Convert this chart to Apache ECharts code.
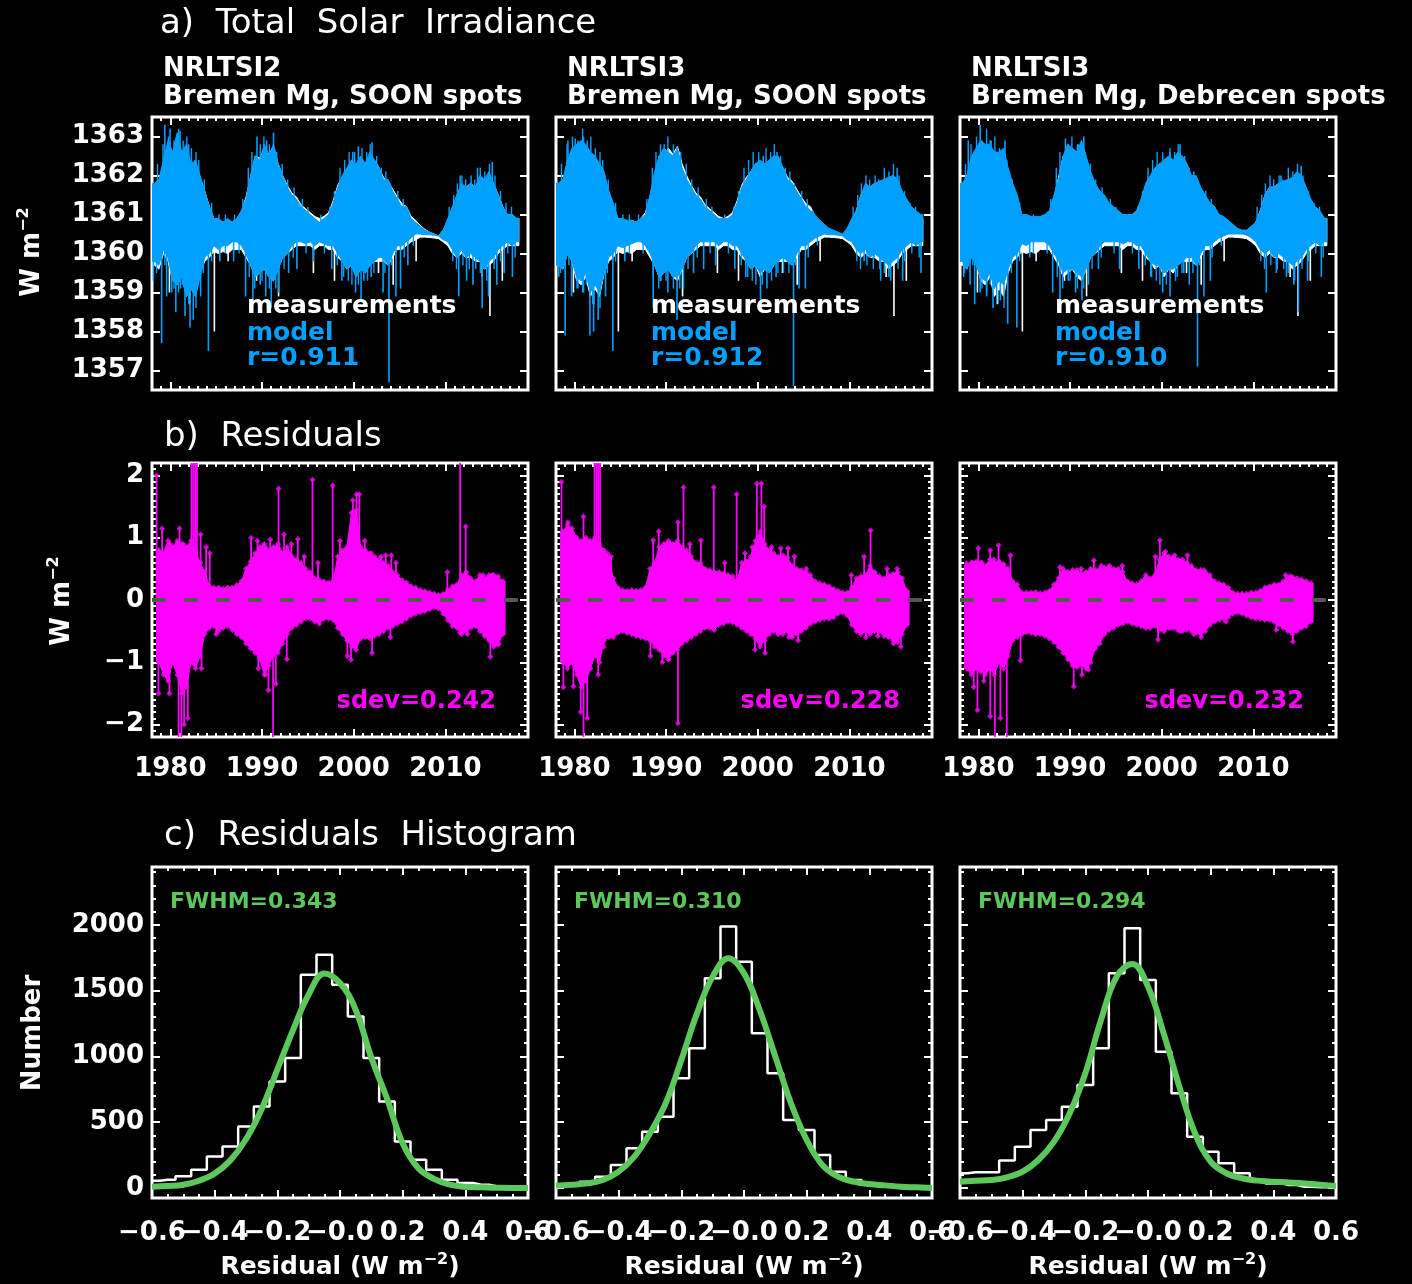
<!DOCTYPE html>
<html><head><meta charset="utf-8">
<script src="https://cdn.jsdelivr.net/npm/echarts@6/dist/echarts.min.js"></script>
<style>html,body{margin:0;padding:0;background:#000}#c{width:1412px;height:1284px}</style>
</head><body><div id="c"></div>
<script>
// ---------------- DATA ----------------
// Row a: TSI band samples (half-year), W m-2
const yearsA = [1978.25,1978.75,1979.25,1979.75,1980.25,1980.75,1981.25,1981.75,1982.25,1982.75,
1983.25,1983.75,1984.25,1984.75,1985.25,1985.75,1986.25,1986.75,1987.25,1987.75,
1988.25,1988.75,1989.25,1989.75,1990.25,1990.75,1991.25,1991.75,1992.25,1992.75,
1993.25,1993.75,1994.25,1994.75,1995.25,1995.75,1996.25,1996.75,1997.25,1997.75,
1998.25,1998.75,1999.25,1999.75,2000.25,2000.75,2001.25,2001.75,2002.25,2002.75,
2003.25,2003.75,2004.25,2004.75,2005.25,2005.75,2006.25,2006.75,2007.25,2007.75,
2008.25,2008.75,2009.25,2009.75,2010.25,2010.75,2011.25,2011.75,2012.25,2012.75,
2013.25,2013.75,2014.25,2014.75,2015.25,2015.75,2016.25,2016.75,2017.25,2017.75];

const measHi = [1361.7,1361.8,1362.3,1362.6,1362.5,1362.7,1362.5,1362.5,1362.25,1362.25,
1361.95,1361.6,1361.2,1360.9,1360.85,1360.8,1360.85,1360.8,1360.9,1361.05,
1361.45,1361.95,1362.5,1362.45,1362.7,1362.55,1362.75,1362.3,1362.0,1361.75,
1361.55,1361.45,1361.25,1361.15,1361.05,1360.95,1360.9,1360.95,1361.05,1361.35,
1361.75,1361.95,1362.1,1362.3,1362.25,1362.3,1362.3,1362.5,1362.4,1362.2,
1361.95,1361.85,1361.65,1361.45,1361.28,1361.2,1360.95,1360.85,1360.72,1360.62,
1360.55,1360.5,1360.45,1360.6,1360.8,1361.1,1361.5,1361.7,1361.7,1361.8,
1361.7,1361.9,1361.9,1362.0,1361.8,1361.5,1361.2,1361.0,1361.0,1360.9];
const measLo = [1359.7,1359.6,1360.0,1359.8,1359.3,1359.2,1359.4,1358.9,1359.1,1358.9,
1359.5,1359.8,1359.9,1360.05,1360.0,1360.05,1360.0,1360.1,1360.1,1360.1,
1359.9,1359.7,1359.4,1359.5,1359.6,1359.4,1359.3,1359.6,1359.9,1360.0,
1360.1,1360.2,1360.2,1360.2,1360.2,1360.1,1360.2,1360.2,1360.1,1360.1,
1359.9,1359.8,1359.6,1359.7,1359.4,1359.6,1359.5,1359.7,1359.8,1359.8,
1359.8,1359.7,1359.9,1360.1,1360.1,1360.2,1360.3,1360.35,1360.42,1360.42,
1360.41,1360.4,1360.38,1360.3,1360.2,1360.0,1359.9,1360.0,1359.9,1359.9,
1359.8,1359.8,1359.6,1359.7,1359.8,1360.0,1360.1,1360.2,1360.2,1360.2];
const measSpikes = [[1979.9,1359.0],[1982.1,1358.7],[1984.8,1358.0],[1986.3,1359.8],[1989.4,1359.3],
[1991.8,1358.9],[1995.6,1359.5],[1997.9,1359.3],[2002.7,1359.5],[2004.3,1359.2],[2006.8,1359.8],
[2014.0,1359.4],[2014.85,1358.4],[2016.2,1359.3]];

// short day-to-day fluctuations seen along both edges of the model band (common to all three panels)
const tsiFringe = [[1978.6,1362.3],[1979.2,1362.8],[1979.8,1363.0],[1980.4,1362.9],[1980.9,1363.2],[1981.4,1362.9],
[1981.8,1363.0],[1982.3,1362.7],[1982.8,1362.6],[1983.1,1362.4],[1983.7,1361.9],[1984.5,1361.3],[1985.3,1361.0],
[1986.0,1361.0],[1987.0,1361.0],[1987.9,1361.4],[1988.5,1362.2],[1988.9,1362.6],[1989.8,1362.8],[1990.2,1363.0],
[1990.8,1362.8],[1991.6,1362.6],[1992.2,1362.3],[1992.8,1361.9],[1993.5,1361.7],[1994.4,1361.4],[1995.0,1361.2],
[1996.4,1361.0],[1997.4,1361.2],[1997.9,1361.6],[1998.5,1362.2],[1999.0,1362.4],[1999.5,1362.6],[2000.1,1362.6],
[2000.9,1362.7],[2001.4,1362.6],[2001.8,1362.8],[2002.5,1362.5],[2003.0,1362.2],[2003.5,1362.1],[2004.0,1361.8],
[2004.8,1361.6],[2005.4,1361.4],[2006.0,1361.1],[2010.4,1361.2],[2010.9,1361.5],[2011.3,1361.8],[2011.8,1362.0],
[2012.2,1361.9],[2012.8,1362.0],[2013.2,1361.9],[2013.8,1362.2],[2014.3,1362.1],[2014.8,1362.3],[2015.4,1362.0],
[2016.0,1361.6],[2016.6,1361.3],[2017.2,1361.2],
[1978.5,1359.5],[1979.4,1359.7],[1980.4,1359.1],[1980.9,1359.0],[1981.3,1359.2],[1982.0,1358.7],[1982.8,1358.6],
[1983.6,1359.5],[1984.5,1359.8],[1986.0,1360.0],[1987.5,1360.0],[1988.6,1359.4],[1989.2,1359.1],[1990.0,1359.3],
[1990.8,1359.1],[1991.5,1359.1],[1992.4,1359.6],[1993.4,1359.9],[1994.8,1360.0],[1996.8,1360.0],[1998.2,1359.7],
[1998.9,1359.4],[1999.4,1359.3],[1999.8,1359.2],[2000.5,1359.2],[2001.5,1359.3],[2002.2,1359.5],[2003.4,1359.5],
[2004.1,1359.7],[2005.5,1359.9],[2006.5,1360.2],[2010.8,1359.8],[2011.2,1359.6],[2011.9,1359.7],[2012.6,1359.6],
[2013.3,1359.6],[2013.8,1359.5],[2014.5,1359.3],[2015.3,1359.6],[2016.0,1359.8],[2016.8,1360.0],[2017.6,1359.9]];

const tsiHi1 = [1361.8,1361.9,1362.4,1362.9,1362.6,1363.1,1362.6,1362.8,1362.3,1362.4,
1362.0,1361.6,1361.2,1360.9,1360.9,1360.8,1360.9,1360.8,1360.9,1361.1,
1361.4,1362.0,1362.5,1362.4,1362.8,1362.5,1362.8,1362.3,1362.0,1361.7,
1361.5,1361.4,1361.2,1361.1,1361.0,1360.9,1360.8,1360.9,1361.0,1361.3,
1361.7,1362.0,1362.2,1362.4,1362.3,1362.5,1362.3,1362.6,1362.4,1362.2,
1361.9,1361.9,1361.6,1361.4,1361.2,1361.2,1360.9,1360.8,1360.7,1360.6,
1360.55,1360.5,1360.45,1360.6,1360.9,1361.2,1361.5,1361.8,1361.7,1361.8,
1361.7,1362.0,1361.9,1362.1,1361.8,1361.5,1361.2,1361.0,1361.0,1360.9];
const tsiLo1 = [1359.8,1359.7,1360.1,1359.9,1359.3,1359.2,1359.4,1358.9,1359.1,1358.9,
1359.4,1359.9,1360.0,1360.2,1360.1,1360.2,1360.2,1360.3,1360.3,1360.2,
1360.0,1359.7,1359.4,1359.5,1359.6,1359.4,1359.3,1359.6,1359.9,1360.0,
1360.2,1360.3,1360.3,1360.25,1360.3,1360.2,1360.3,1360.25,1360.2,1360.2,
1360.0,1359.8,1359.6,1359.7,1359.4,1359.6,1359.5,1359.7,1359.8,1359.9,
1359.9,1359.7,1360.0,1360.2,1360.2,1360.3,1360.4,1360.5,1360.5,1360.48,
1360.48,1360.47,1360.45,1360.35,1360.3,1360.1,1359.9,1360.1,1359.9,1360.0,
1359.9,1359.8,1359.6,1359.8,1359.9,1360.1,1360.2,1360.3,1360.2,1360.3];
const tsiSpikes1 = [[1978.15,1359.3],[1979.05,1357.7],[1979.6,1358.9],[1980.15,1359.0],[1980.6,1358.5],
[1981.1,1359.1],[1981.6,1358.4],[1982.15,1358.1],[1982.5,1358.3],[1983.3,1358.9],[1984.15,1357.5],
[1985.4,1359.8],[1986.9,1359.8],[1988.2,1358.9],[1989.0,1358.7],[1989.8,1359.2],[1990.4,1358.9],
[1991.0,1358.6],[1991.8,1359.0],[1992.9,1359.5],[1993.8,1359.6],[1995.6,1359.8],[1997.6,1359.6],
[1998.7,1359.3],[2000.2,1359.0],[2000.8,1358.8],[2001.1,1359.3],[2001.9,1359.4],[2003.2,1359.0],
[2003.84,1356.7],[2004.6,1358.9],[2005.1,1359.1],[2005.9,1359.7],[2011.45,1358.9],[2012.3,1359.3],
[2013.0,1359.2],[2014.0,1358.6],[2014.7,1358.9],[2015.6,1359.2],[2016.4,1359.5],[2017.3,1359.4],
[1979.4,1363.3],[1979.97,1363.2],[1981.06,1363.15],[1982.0,1362.8],[1989.45,1363.0],[1990.5,1362.9],
[1991.25,1363.1],[1999.9,1362.6],[2000.5,1362.75],[2002.0,1362.85],[2011.6,1362.0],[2013.5,1362.2],
[2015.1,1362.35]];

const tsiHi2 = [1361.8,1361.9,1362.4,1362.7,1362.8,1362.9,1362.8,1362.6,1362.5,1362.3,
1362.1,1361.6,1361.3,1360.9,1360.9,1360.85,1360.85,1360.8,1360.9,1361.0,
1361.5,1362.1,1362.5,1362.7,1362.6,1362.5,1362.7,1362.2,1361.9,1361.7,
1361.5,1361.4,1361.2,1361.1,1361.0,1360.9,1360.9,1360.9,1361.0,1361.3,
1361.7,1361.9,1362.1,1362.3,1362.4,1362.3,1362.4,1362.5,1362.5,1362.2,
1361.9,1361.8,1361.6,1361.4,1361.2,1361.1,1361.0,1360.85,1360.75,1360.65,
1360.6,1360.55,1360.5,1360.65,1360.9,1361.1,1361.5,1361.8,1361.7,1361.8,
1361.85,1361.9,1361.95,1362.0,1361.9,1361.6,1361.4,1361.2,1361.1,1361.0];
const tsiLo2 = [1359.7,1359.6,1360.0,1359.8,1359.4,1359.3,1359.5,1359.0,1359.2,1359.0,
1359.5,1359.9,1360.0,1360.2,1360.15,1360.2,1360.25,1360.3,1360.3,1360.2,
1360.0,1359.7,1359.4,1359.5,1359.6,1359.4,1359.4,1359.6,1359.9,1360.0,
1360.2,1360.3,1360.3,1360.3,1360.3,1360.2,1360.3,1360.3,1360.2,1360.2,
1360.0,1359.8,1359.6,1359.7,1359.5,1359.6,1359.5,1359.7,1359.8,1359.9,
1359.8,1359.7,1360.0,1360.2,1360.2,1360.3,1360.4,1360.45,1360.5,1360.48,
1360.48,1360.47,1360.45,1360.35,1360.3,1360.1,1360.0,1360.1,1359.9,1360.0,
1359.9,1359.8,1359.7,1359.8,1359.9,1360.1,1360.2,1360.3,1360.2,1360.3];
const tsiSpikes2 = [[1978.3,1359.4],[1979.0,1357.9],[1979.7,1358.9],[1980.3,1359.1],[1981.0,1359.0],
[1981.7,1357.9],[1982.1,1358.0],[1982.6,1358.3],[1983.4,1358.9],[1984.2,1357.5],[1985.5,1359.8],
[1988.6,1358.6],[1989.4,1359.3],[1990.2,1359.0],[1991.2,1358.3],[1991.9,1359.1],[1993.0,1359.5],
[1994.1,1359.6],[1995.4,1359.7],[1997.5,1359.6],[1998.7,1359.4],[2000.3,1358.8],[2001.0,1359.1],
[2002.0,1359.4],[2002.8,1359.5],[2003.9,1356.6],[2004.5,1359.1],[2005.2,1359.1],[2011.6,1359.8],
[2012.7,1359.9],[2013.4,1359.3],[2014.3,1359.4],[2015.8,1359.3],[2017.8,1359.5],
[1979.3,1362.9],[1980.1,1362.95],[1981.0,1363.0],[1989.4,1362.8],[1991.2,1362.75],[2000.6,1362.5],
[2002.1,1362.6],[2015.2,1362.2]];

const tsiHi3 = [1361.8,1362.0,1362.5,1362.7,1362.9,1362.8,1362.8,1362.6,1362.6,1362.7,
1362.2,1361.8,1361.5,1361.0,1361.0,1360.95,1360.95,1360.95,1361.0,1361.1,
1361.5,1361.9,1362.5,1362.8,1362.7,1362.6,1362.9,1362.5,1362.1,1361.8,
1361.6,1361.5,1361.3,1361.2,1361.1,1361.0,1361.0,1361.0,1361.1,1361.4,
1361.8,1362.0,1362.2,1362.3,1362.4,1362.5,1362.4,1362.6,1362.5,1362.3,
1362.0,1362.0,1361.7,1361.5,1361.3,1361.2,1361.0,1360.95,1360.85,1360.75,
1360.65,1360.6,1360.6,1360.7,1360.8,1361.1,1361.5,1361.7,1361.7,1361.8,
1361.85,1361.9,1361.95,1362.1,1362.0,1361.7,1361.4,1361.2,1361.1,1360.9];
const tsiLo3 = [1359.8,1359.6,1359.9,1359.7,1359.4,1359.3,1359.5,1359.1,1359.3,1359.2,
1359.6,1359.9,1360.0,1360.25,1360.2,1360.3,1360.3,1360.3,1360.3,1360.2,
1360.0,1359.8,1359.5,1359.6,1359.6,1359.5,1359.4,1359.6,1359.9,1360.0,
1360.2,1360.3,1360.3,1360.3,1360.3,1360.25,1360.3,1360.3,1360.2,1360.2,
1360.0,1359.8,1359.7,1359.7,1359.5,1359.6,1359.6,1359.7,1359.8,1359.9,
1359.9,1359.7,1360.0,1360.2,1360.2,1360.3,1360.4,1360.45,1360.5,1360.5,
1360.5,1360.5,1360.48,1360.4,1360.3,1360.1,1360.0,1360.1,1359.9,1360.0,
1359.9,1359.8,1359.7,1359.8,1359.9,1360.1,1360.2,1360.3,1360.2,1360.3];
const tsiSpikes3 = [[1978.4,1359.4],[1979.1,1359.2],[1979.6,1358.7],[1980.2,1359.0],[1980.9,1358.9],
[1981.6,1358.6],[1982.4,1358.8],[1983.2,1358.2],[1984.2,1358.1],[1985.6,1359.9],[1988.1,1359.0],
[1988.9,1358.8],[1989.8,1359.3],[1990.6,1359.0],[1991.3,1358.8],[1992.0,1359.2],[1993.1,1359.6],
[1995.4,1359.6],[1997.5,1359.6],[1998.8,1359.4],[2000.1,1359.0],[2000.9,1358.9],[2001.7,1359.4],
[2002.4,1359.5],[2003.0,1359.2],[2003.9,1357.1],[2004.6,1358.9],[2005.3,1359.3],[2011.4,1359.0],
[2012.5,1359.5],[2013.6,1359.4],[2014.4,1359.2],[2014.9,1358.5],[2015.9,1359.3],[2017.4,1359.4],
[1978.9,1362.9],[1980.2,1363.3],[1981.3,1362.9],[1982.9,1362.9],[1989.5,1362.95],[1990.9,1362.8],
[1991.5,1363.0],[2000.9,1362.6],[2002.0,1362.8],[2013.0,1362.0],[2015.2,1362.25]];

// Row b: residual band samples (half-year), W m-2
const yearsB = [1978.75,1979.25,1979.75,1980.25,1980.75,1981.25,1981.75,1982.25,1982.75,1983.25,
1983.75,1984.25,1984.75,1985.25,1985.75,1986.25,1986.75,1987.25,1987.75,1988.25,
1988.75,1989.25,1989.75,1990.25,1990.75,1991.25,1991.75,1992.25,1992.75,1993.25,
1993.75,1994.25,1994.75,1995.25,1995.75,1996.25,1996.75,1997.25,1997.75,1998.25,
1998.75,1999.25,1999.75,2000.25,2000.75,2001.25,2001.75,2002.25,2002.75,2003.25,
2003.75,2004.25,2004.75,2005.25,2005.75,2006.25,2006.75,2007.25,2007.75,2008.25,
2008.75,2009.25,2009.75,2010.25,2010.75,2011.25,2011.75,2012.25,2012.75,2013.25,
2013.75,2014.25,2014.75,2015.25,2015.75,2016.25];

const resHi1 = [0.8,0.75,0.95,0.85,0.95,0.9,0.85,0.95,0.8,0.6,
0.45,0.22,0.2,0.2,0.18,0.2,0.2,0.24,0.3,0.5,
0.62,0.75,0.85,0.9,0.8,0.85,0.9,0.75,0.85,0.7,
0.65,0.6,0.5,0.45,0.35,0.32,0.3,0.28,0.3,0.7,
0.8,0.85,1.4,1.45,0.85,0.8,0.75,0.7,0.65,0.6,
0.55,0.45,0.4,0.32,0.28,0.22,0.2,0.16,0.14,0.12,
0.1,0.08,0.1,0.16,0.22,0.25,0.4,0.45,0.35,0.3,
0.4,0.35,0.4,0.4,0.38,0.3];
const resLo1 = [-1.0,-1.2,-1.3,-1.0,-1.2,-1.5,-1.4,-1.0,-1.1,-0.9,
-0.55,-0.45,-0.42,-0.5,-0.45,-0.42,-0.48,-0.55,-0.6,-0.7,
-0.78,-0.85,-0.95,-1.2,-1.05,-0.9,-0.85,-0.7,-0.55,-0.45,
-0.4,-0.35,-0.3,-0.3,-0.35,-0.38,-0.3,-0.3,-0.32,-0.45,
-0.55,-0.65,-0.75,-0.8,-0.62,-0.6,-0.62,-0.58,-0.55,-0.5,
-0.45,-0.42,-0.38,-0.35,-0.3,-0.25,-0.22,-0.2,-0.18,-0.15,
-0.12,-0.14,-0.22,-0.32,-0.42,-0.45,-0.55,-0.5,-0.45,-0.42,
-0.5,-0.58,-0.65,-0.75,-0.72,-0.55];
const resSpikes1 = [[1978.5,2.0],[1979.1,1.15],[1980.0,0.9],[1981.0,1.15],[1981.4,0.9],[1982.3,2.3],
[1982.5,2.3],[1982.7,2.3],[1982.9,2.3],[1983.3,1.05],[1983.9,0.85],[1984.3,0.75],[1988.8,1.0],
[1989.5,0.95],[1990.3,0.85],[1990.9,0.97],[1991.8,1.79],[1992.4,1.05],[1993.2,0.9],[1993.9,0.98],
[1994.6,0.7],[1995.5,1.93],[1996.1,0.6],[1997.7,1.84],[1998.5,0.95],[1999.1,0.8],[1999.9,1.6],
[2000.3,1.7],[2000.6,1.7],[2001.2,0.95],[2001.9,0.75],[2003.0,0.7],[2003.5,0.72],[2004.1,0.72],
[2004.6,0.6],[2010.2,0.45],[2011.6,2.3],[2012.2,1.18],[2014.1,0.4],[2015.1,0.4],
[1978.7,-1.5],[1979.9,-1.5],[1980.9,-2.3],[1981.2,-2.3],[1981.5,-2.0],[1981.9,-1.9],[1983.4,-1.1],
[1985.0,-0.55],[1989.6,-1.1],[1990.4,-1.2],[1990.7,-1.45],[1991.2,-2.3],[1991.5,-1.35],[1992.7,-0.95],
[1999.3,-0.9],[1999.7,-0.96],[2002.0,-0.85],[2004.0,-0.6],[2011.6,-0.52],[2012.4,-0.55],
[2014.9,-0.91],[2015.8,-0.7]];

const resHi2 = [1.1,1.2,1.15,1.0,0.95,1.0,0.95,1.0,0.9,0.8,
0.7,0.35,0.2,0.16,0.15,0.16,0.15,0.16,0.2,0.5,
0.6,0.85,0.9,0.95,0.9,0.95,0.85,0.8,0.7,0.6,
0.6,0.5,0.48,0.45,0.45,0.43,0.4,0.38,0.3,0.6,
0.62,0.7,0.95,1.1,0.9,0.8,0.75,0.7,0.72,0.68,
0.55,0.5,0.48,0.45,0.4,0.3,0.27,0.25,0.22,0.18,
0.15,0.12,0.12,0.2,0.35,0.38,0.4,0.55,0.45,0.38,
0.35,0.4,0.42,0.45,0.35,0.15];
const resLo2 = [-1.0,-1.1,-1.0,-1.2,-1.4,-1.3,-1.1,-0.9,-1.0,-0.65,
-0.6,-0.6,-0.53,-0.5,-0.53,-0.55,-0.58,-0.6,-0.62,-0.65,
-0.75,-0.8,-0.9,-0.95,-0.85,-0.8,-0.7,-0.65,-0.6,-0.55,
-0.5,-0.45,-0.45,-0.48,-0.4,-0.38,-0.35,-0.36,-0.4,-0.45,
-0.5,-0.55,-0.62,-0.75,-0.65,-0.55,-0.5,-0.52,-0.55,-0.5,
-0.6,-0.55,-0.5,-0.45,-0.38,-0.35,-0.32,-0.3,-0.3,-0.28,
-0.22,-0.2,-0.25,-0.4,-0.5,-0.55,-0.5,-0.55,-0.5,-0.5,
-0.58,-0.6,-0.65,-0.68,-0.55,-0.4];
const resSpikes2 = [[1978.6,1.9],[1979.3,1.25],[1980.2,1.0],[1981.0,1.34],[1982.2,2.3],[1982.4,2.3],
[1982.6,2.3],[1982.8,2.3],[1983.6,0.75],[1984.0,0.7],[1988.6,0.96],[1989.2,1.1],[1990.5,0.9],
[1991.3,1.25],[1991.9,1.81],[1992.6,0.9],[1993.8,0.96],[1995.2,1.81],[1996.4,0.6],[1997.7,1.7],
[1998.6,0.75],[1999.4,0.85],[1999.9,1.87],[2000.4,1.87],[2000.7,1.5],[2001.5,0.85],[2002.5,0.83],
[2003.3,0.83],[2004.0,0.7],[2005.3,0.5],[2010.2,0.4],[2011.6,0.7],[2012.3,1.12],[2014.1,0.5],
[2015.2,0.5],
[1978.8,-1.4],[1979.9,-1.39],[1980.7,-1.8],[1981.0,-2.3],[1981.4,-1.9],[1982.6,-1.2],[1983.2,-0.75],
[1988.3,-0.9],[1989.6,-1.0],[1990.3,-0.95],[1991.3,-1.98],[1999.7,-0.8],[2000.8,-0.85],[2002.2,-0.55],
[2003.4,-0.6],[2004.4,-0.65],[2011.8,-0.6],[2013.1,-0.58],[2014.8,-0.7],[2015.6,-0.75]];

const resHi3 = [0.55,0.6,0.62,0.6,0.55,0.65,0.6,0.62,0.58,0.5,
0.3,0.25,0.12,0.12,0.12,0.13,0.11,0.12,0.15,0.25,
0.35,0.5,0.45,0.45,0.48,0.42,0.45,0.5,0.48,0.5,
0.52,0.53,0.5,0.5,0.45,0.3,0.27,0.25,0.3,0.4,
0.35,0.4,0.65,0.75,0.7,0.68,0.65,0.65,0.6,0.55,
0.48,0.48,0.45,0.4,0.3,0.27,0.25,0.2,0.12,0.1,
0.1,0.1,0.12,0.12,0.15,0.2,0.22,0.25,0.25,0.3,
0.35,0.37,0.35,0.33,0.3,0.27];
const resLo3 = [-1.1,-1.2,-1.1,-1.15,-1.2,-1.1,-1.2,-1.0,-1.1,-0.9,
-0.65,-0.6,-0.55,-0.52,-0.53,-0.55,-0.55,-0.58,-0.62,-0.68,
-0.75,-0.85,-0.95,-1.05,-1.08,-1.05,-1.1,-1.0,-0.78,-0.7,
-0.55,-0.48,-0.45,-0.4,-0.38,-0.35,-0.38,-0.4,-0.42,-0.45,
-0.45,-0.42,-0.48,-0.5,-0.45,-0.45,-0.48,-0.5,-0.45,-0.5,
-0.52,-0.55,-0.5,-0.4,-0.35,-0.32,-0.3,-0.28,-0.22,-0.2,
-0.22,-0.25,-0.28,-0.3,-0.3,-0.32,-0.32,-0.35,-0.4,-0.45,
-0.5,-0.55,-0.5,-0.45,-0.42,-0.35];
const resSpikes3 = [[1978.7,0.59],[1979.3,0.6],[1980.0,0.83],[1980.4,0.6],[1981.3,0.8],[1981.7,0.65],
[1982.2,0.88],[1983.5,0.72],[1988.9,0.53],[1989.7,0.45],[1990.3,0.48],[1991.2,0.5],[1992.6,0.64],
[1993.4,0.55],[1994.3,0.55],[1995.7,0.55],[1999.3,0.7],[1999.8,0.96],[2000.4,0.78],[2001.4,0.72],
[2002.8,0.72],[2004.6,0.48],[2013.5,0.4],[2014.0,0.38],
[1978.9,-1.1],[1979.5,-1.4],[1979.9,-1.77],[1980.6,-1.3],[1981.3,-1.87],[1981.8,-2.3],[1982.4,-1.9],
[1983.1,-2.3],[1984.6,-0.97],[1988.8,-0.75],[1990.4,-1.39],[1991.3,-1.2],[1992.0,-1.12],[1999.6,-0.64],
[2001.0,-0.45],[2002.0,-0.5],[2002.7,-0.48],[2003.5,-0.55],[2004.3,-0.6],[2007.0,-0.35],[2012.5,-0.48],
[2014.3,-0.67]];

// Row c: histogram bins (W m-2) and counts, Gaussian-fit curve values
const histBins = [-0.6,-0.55,-0.5,-0.45,-0.4,-0.35,-0.3,-0.25,-0.2,-0.15,-0.1,-0.05,0,
0.05,0.1,0.15,0.2,0.25,0.3,0.35,0.4,0.45,0.5,0.55,0.6];
const hist1 = [55,63,89,139,240,316,468,620,810,987,1620,1772,1544,1304,987,658,354,215,139,63,38,25,13,10,5];
const fit1  = [10,15,25,55,110,210,370,600,900,1200,1470,1630,1557,1354,990,680,340,150,70,25,10,5,2,0,0];
const hist2 = [15,23,48,86,175,302,428,542,833,1061,1593,1986,1720,1175,871,517,441,251,124,61,35,23,10,5,0];
const fit2  = [18,25,35,61,124,238,416,644,973,1327,1606,1745,1631,1352,998,644,365,175,86,48,30,20,10,5,0];
const hist3 = [112,120,120,208,314,441,517,618,783,1061,1631,1973,1581,1036,720,390,276,188,112,61,35,23,10,5,0];
const fit3  = [48,55,61,81,124,213,352,568,872,1277,1606,1702,1530,1175,771,416,200,112,74,56,48,42,35,25,15];

// Ticks / labels
const yearTicks = [1980,1990,2000,2010];
const tsiTicks = [1357,1358,1359,1360,1361,1362,1363];
const resTicks = [-2,-1,0,1,2];
const histXTicks = [-0.6,-0.4,-0.2,0,0.2,0.4,0.6];
const histXLabelsA = [-0.6,-0.2,0.2,0.6];   // drawn on one label row
const histXLabelsB = [-0.4,0,0.4];          // drawn on the interleaved label row
const histYTicks = [0,500,1000,1500,2000];
const subtitles = [['NRLTSI2','Bremen Mg, SOON spots'],['NRLTSI3','Bremen Mg, SOON spots'],['NRLTSI3','Bremen Mg, Debrecen spots']];
const rLabels = ['r=0.911','r=0.912','r=0.910'];
const sdevLabels = ['sdev=0.242','sdev=0.228','sdev=0.232'];
const fwhmLabels = ['FWHM=0.343','FWHM=0.310','FWHM=0.294'];

// ---------------- CHART ----------------
const FONT = '"DejaVu Sans", sans-serif';
const WHITE='#ffffff', BLUE='#00a0ff', MAGENTA='#ff00ff', GREEN='#5cc85c', GREY='#555555';
const COLS=[152,556,960], GW=376;
const ROWS=[{top:117,h:273},{top:463,h:274},{top:867,h:331}];
const grids=[], xAxes=[], yAxes=[], series=[], texts=[];

function stepList(a,b,s){const r=[];for(let v=a;v<=b+1e-9;v+=s)r.push(+v.toFixed(4));return r;}
const minorYears = stepList(1978,2019,1);
const minorRes = stepList(-2.2,2.2,0.1);
const minorHX = stepList(-0.6,0.6,0.05);
const minorHY = stepList(0,2400,100);

function labelCfg(vals, fmt, margin){
  return {show:true,customValues:vals,formatter:fmt,color:WHITE,fontFamily:FONT,fontWeight:'bold',fontSize:26,margin,
          showMinLabel:true,showMaxLabel:true,hideOverlap:false};
}
// labels: null (none) or [valuesOnMajorAxis, valuesOnMinorAxis]
function axes(isX, gi, min, max, majors, minors, labels, fmt, margin){
  const pos = isX?['bottom','top']:['left','right'];
  const out=[];
  pos.forEach((p,k)=>{
    [[majors,8,0],[minors,4,1]].forEach(([vals,len,which])=>{
      const lab = (k===0 && labels && labels[which] && labels[which].length) ? labelCfg(labels[which],fmt,margin) : {show:false};
      out.push({type:'value',gridIndex:gi,position:p,min,max,
        axisLine:{show:false,onZero:false},splitLine:{show:false},minorTick:{show:false},
        axisTick:{show:vals.length>0,inside:true,length:len,customValues:vals.length?vals:undefined,lineStyle:{color:WHITE,width:2}},
        axisLabel:lab
      });
    });
  });
  return out;
}
const minus = v => v<0 ? '\u2212'+Math.abs(v) : String(v);

function band(gi, xs, hi, lo, color, z){
  return {type:'custom',xAxisIndex:gi*4,yAxisIndex:gi*4,clip:true,silent:true,z,
    data: xs.map((t,i)=>[t,hi[i],lo[i]]), encode:{x:0,y:[1,2]},
    renderItem(params, api){
      if(params.dataIndex!==0) return null;
      const n=Math.min(xs.length,hi.length,lo.length), h=(xs[1]-xs[0])/2;
      const top=[api.coord([xs[0]-h,hi[0]])], bot=[api.coord([xs[0]-h,lo[0]])];
      for(let i=0;i<n;i++){top.push(api.coord([xs[i],hi[i]]));bot.push(api.coord([xs[i],lo[i]]));}
      top.push(api.coord([xs[n-1]+h,hi[n-1]])); bot.push(api.coord([xs[n-1]+h,lo[n-1]]));
      return {type:'polygon',shape:{points:top.concat(bot.reverse())},style:{fill:color,stroke:color,lineWidth:1}};
    }};
}
function spikes(gi, list, baseFn, color, width, z){
  return {type:'custom',xAxisIndex:gi*4,yAxisIndex:gi*4,clip:true,silent:true,z,
    data:list, encode:{x:0,y:1},
    renderItem(params, api){
      const t=api.value(0), v=api.value(1), b=baseFn(t);
      const p1=api.coord([t,b]), p2=api.coord([t,v]);
      return {type:'line',shape:{x1:p1[0],y1:p1[1],x2:p2[0],y2:p2[1]},style:{stroke:color,lineWidth:width}};
    }};
}
function centerFn(xs,hi,lo){
  return t=>{let i=Math.round((t-xs[0])/(xs[1]-xs[0]));i=Math.max(0,Math.min(xs.length-1,i));return (hi[i]+lo[i])/2;};
}
function T(text,x,y,o){
  const font=(o.bold?'bold ':'')+o.size+'px '+FONT;
  const st={text,x:0,y:0,fill:o.color||WHITE,font,
      textAlign:o.align||'left',textVerticalAlign:'middle',align:o.align||'left',verticalAlign:'middle'};
  if(o.rich){
    st.rich={
      a:{fontSize:o.size,fontWeight:o.bold?'bold':'normal',fontFamily:FONT,fill:o.color||WHITE,color:o.color||WHITE,lineHeight:o.size+6,verticalAlign:'middle'},
      s:{fontSize:Math.round(o.size*0.62),fontWeight:'bold',fontFamily:FONT,fill:o.color||WHITE,color:o.color||WHITE,lineHeight:Math.round(o.size*0.62),verticalAlign:'top'}
    };
  }
  texts.push({type:'text',x,y,rotation:o.rot||0,z:100,silent:true,style:st});
}

const tsiHi=[tsiHi1,tsiHi2,tsiHi3], tsiLo=[tsiLo1,tsiLo2,tsiLo3], tsiSp=[tsiSpikes1,tsiSpikes2,tsiSpikes3];
const resHi=[resHi1,resHi2,resHi3], resLo=[resLo1,resLo2,resLo3], resSp=[resSpikes1,resSpikes2,resSpikes3];
const hists=[hist1,hist2,hist3], fits=[fit1,fit2,fit3];

for(let r=0;r<3;r++){
  for(let p=0;p<3;p++){
    const gi=r*3+p;
    grids.push({left:COLS[p],top:ROWS[r].top,width:GW,height:ROWS[r].h,show:true,borderColor:WHITE,borderWidth:3,backgroundColor:'transparent'});
    if(r===0){
      xAxes.push(...axes(true,gi,1978,2019,yearTicks,minorYears,null,null,18));
      yAxes.push(...axes(false,gi,1356.5,1363.5,tsiTicks,[],p===0?[tsiTicks,null]:null,v=>String(v),8));
      series.push(band(gi,yearsA,measHi,measLo,WHITE,2));
      series.push(spikes(gi,measSpikes,centerFn(yearsA,measHi,measLo),WHITE,1.6,3));
      series.push(band(gi,yearsA,tsiHi[p],tsiLo[p],BLUE,4));
      series.push(spikes(gi,tsiFringe,centerFn(yearsA,tsiHi[p],tsiLo[p]),BLUE,1.4,5));
      series.push(spikes(gi,tsiSp[p],centerFn(yearsA,tsiHi[p],tsiLo[p]),BLUE,1.6,5));
    } else if(r===1){
      xAxes.push(...axes(true,gi,1978,2019,yearTicks,minorYears,[yearTicks,null],v=>String(v),19));
      yAxes.push(...axes(false,gi,-2.2,2.2,resTicks,minorRes,p===0?[resTicks,null]:null,minus,8));
      series.push(band(gi,yearsB,resHi[p],resLo[p],MAGENTA,2));
      series.push(spikes(gi,resSp[p],()=>0,MAGENTA,1.8,3));
      const marks=[];
      yearsB.forEach((t,i)=>{marks.push([t,resHi[p][i]]);marks.push([t,resLo[p][i]]);});
      resSp[p].forEach(s=>marks.push(s));
      series.push({type:'scatter',xAxisIndex:gi*4,yAxisIndex:gi*4,data:marks,symbol:'diamond',symbolSize:6,
        itemStyle:{color:MAGENTA},silent:true,z:4,clip:true});
      series.push({type:'line',xAxisIndex:gi*4,yAxisIndex:gi*4,data:[[1978,0],[2019,0]],symbol:'none',silent:true,z:6,
        lineStyle:{color:GREY,width:4,type:[14,18]}});
    } else {
      xAxes.push(...axes(true,gi,-0.6,0.6,histXTicks,minorHX,[histXLabelsA,histXLabelsB],v=>(v<=0?'\u2212':'')+Math.abs(v).toFixed(1),22));
      yAxes.push(...axes(false,gi,-76,2439,histYTicks,minorHY,p===0?[histYTicks,null]:null,v=>String(v),8));
      series.push({type:'line',xAxisIndex:gi*4,yAxisIndex:gi*4,step:'middle',symbol:'none',silent:true,z:3,
        data:histBins.map((b,i)=>[b,hists[p][i]]),lineStyle:{color:WHITE,width:2.5}});
      series.push({type:'line',xAxisIndex:gi*4,yAxisIndex:gi*4,smooth:0.4,symbol:'none',silent:true,z:4,
        data:histBins.map((b,i)=>[b,fits[p][i]]),lineStyle:{color:GREEN,width:6}});
    }
  }
}

// texts
T('a)  Total  Solar  Irradiance',160,24,{size:34});
T('b)  Residuals',164,437,{size:34});
T('c)  Residuals  Histogram',164,836,{size:34});
for(let p=0;p<3;p++){
  const dx=404*p;
  T(subtitles[p][0],163+dx,69,{size:26,bold:true});
  T(subtitles[p][1],163+dx,97,{size:26,bold:true});
  T('measurements',247+dx,306,{size:25,bold:true});
  T('model',247+dx,333,{size:25,bold:true,color:BLUE});
  T(rLabels[p],247+dx,358,{size:25,bold:true,color:BLUE});
  T(sdevLabels[p],496+dx,702,{size:24,bold:true,color:MAGENTA,align:'right'});
  T(fwhmLabels[p],170+dx,902,{size:22,bold:true,color:GREEN});
  T('{a|Residual (W m}{s|\u22122}{a|)}',340+dx,1267,{size:25,bold:true,align:'center',rich:true});
}
T('{a|W m}{s|\u22122}',32,252,{size:26,bold:true,align:'center',rot:Math.PI/2,rich:true});
T('{a|W m}{s|\u22122}',62,601,{size:26,bold:true,align:'center',rot:Math.PI/2,rich:true});
T('Number',33,1033,{size:26,bold:true,align:'center',rot:Math.PI/2});

const chart = echarts.init(document.getElementById('c'),null,{renderer:'canvas',width:1412,height:1284});
chart.setOption({backgroundColor:'#000',animation:false,grid:grids,xAxis:xAxes,yAxis:yAxes,series,graphic:texts});
</script></body></html>
